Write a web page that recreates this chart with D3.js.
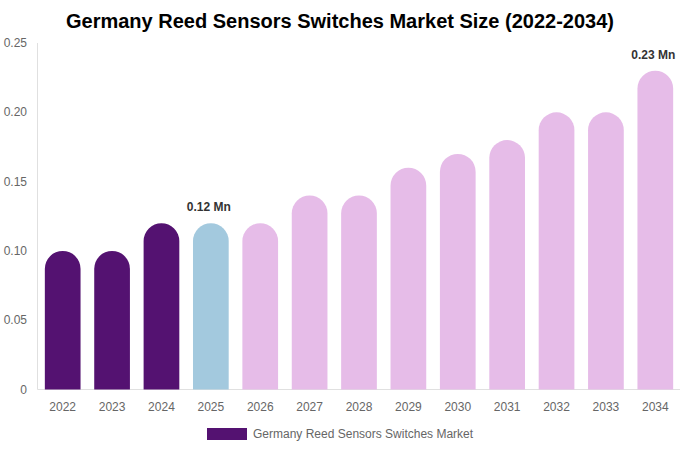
<!DOCTYPE html>
<html><head><meta charset="utf-8">
<script src="https://cdn.jsdelivr.net/npm/d3@7"></script>
<style>body{margin:0;background:#fff}svg{display:block;font-family:"Liberation Sans",Arial,sans-serif}</style>
</head><body>
<svg id="c" width="680" height="450"></svg>
<script>
const categories = ["2022","2023","2024","2025","2026","2027","2028","2029","2030","2031","2032","2033","2034"];
const values = [0.10,0.10,0.12,0.12,0.12,0.14,0.14,0.16,0.17,0.18,0.20,0.20,0.23];
const barColors = ["#541271","#541271","#541271","#a3c9de","#e6bce8","#e6bce8","#e6bce8","#e6bce8","#e6bce8","#e6bce8","#e6bce8","#e6bce8","#e6bce8"];
const yTicks = [0,0.05,0.10,0.15,0.20,0.25];
const annotations = [{cat:"2025",text:"0.12 Mn"},{cat:"2034",text:"0.23 Mn"}];
const title = "Germany Reed Sensors Switches Market Size (2022-2034)";
const legendLabel = "Germany Reed Sensors Switches Market";

const svg = d3.select("#c");
const x = d3.scaleBand().domain(categories).range([38,680]).paddingInner(0.277).paddingOuter(0.1385);
const y = d3.scaleLinear().domain([0,0.25]).range([389.5,43]);

svg.append("text").attr("x",340).attr("y",28).attr("text-anchor","middle")
  .attr("font-size",20).attr("font-weight","bold").attr("fill","#000").text(title);

svg.append("line").attr("x1",37.5).attr("x2",37.5).attr("y1",43).attr("y2",389.5).attr("stroke","#e0e0e0");
svg.append("line").attr("x1",37.5).attr("x2",680).attr("y1",389.5).attr("y2",389.5).attr("stroke","#e0e0e0");

svg.selectAll(".yt").data(yTicks).join("text")
  .attr("x",27).attr("y",d=>y(d)+4).attr("text-anchor","end")
  .attr("font-size",12).attr("fill","#666")
  .text(d=>d===0?"0":d.toFixed(2));

svg.selectAll(".xt").data(categories).join("text")
  .attr("x",d=>x(d)+x.bandwidth()/2).attr("y",411).attr("text-anchor","middle")
  .attr("font-size",12).attr("fill","#666").text(d=>d);

const bw = x.bandwidth(), r = bw/2;
svg.selectAll(".bar").data(values).join("path")
  .attr("fill",(d,i)=>barColors[i])
  .attr("d",(d,i)=>{
    const x0 = x(categories[i]), y0 = y(d), yb = y(0);
    const rr = Math.min(r, yb-y0);
    return `M${x0},${yb}V${y0+rr}A${rr},${rr} 0 0 1 ${x0+bw},${y0+rr}V${yb}Z`;
  });

svg.selectAll(".ann").data(annotations).join("text")
  .attr("x",d=>x(d.cat)+bw/2-2).attr("y",d=>y(values[categories.indexOf(d.cat)])-12)
  .attr("text-anchor","middle").attr("font-size",12).attr("font-weight","bold").attr("fill","#333")
  .text(d=>d.text);

svg.append("rect").attr("x",207).attr("y",428).attr("width",40).attr("height",12).attr("fill","#541271");
svg.append("text").attr("x",253).attr("y",437.5).attr("font-size",12).attr("fill","#666").text(legendLabel);
</script>
</body></html>
